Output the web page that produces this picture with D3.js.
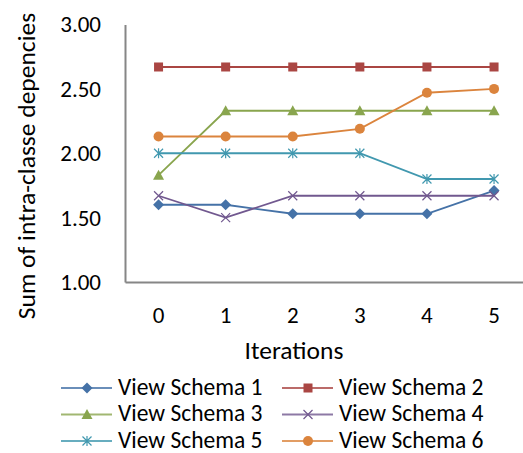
<!DOCTYPE html>
<html>
<head>
<meta charset="utf-8">
<script src="https://cdn.jsdelivr.net/npm/d3@7"></script>
<style>
  html, body { margin: 0; padding: 0; background: #fff; }
  text { font-family: Carlito, "Liberation Sans", Arial, sans-serif; fill: #000; }
</style>
</head>
<body>
<svg id="chart" width="523" height="453"></svg>
<script>
// Iteration steps on the x axis
const iterations = [0, 1, 2, 3, 4, 5];
// Sum of intra-class dependencies for each view schema
const schema1 = [1.60, 1.60, 1.53, 1.53, 1.53, 1.71];
const schema2 = [2.67, 2.67, 2.67, 2.67, 2.67, 2.67];
const schema3 = [1.83, 2.33, 2.33, 2.33, 2.33, 2.33];
const schema4 = [1.67, 1.50, 1.67, 1.67, 1.67, 1.67];
const schema5 = [2.00, 2.00, 2.00, 2.00, 1.80, 1.80];
const schema6 = [2.13, 2.13, 2.13, 2.19, 2.47, 2.50];
const seriesNames = ["View Schema 1", "View Schema 2", "View Schema 3", "View Schema 4", "View Schema 5", "View Schema 6"];
const yTicks = [1.0, 1.5, 2.0, 2.5, 3.0];

const seriesValues = [schema1, schema2, schema3, schema4, schema5, schema6];
const colors = ["#4572A7", "#AA4643", "#89A54E", "#71588F", "#4198AF", "#DB843D"];
const symbols = ["diamond", "square", "triangle", "x", "star", "circle"];

const svg = d3.select("#chart");
const plotLeft = 125, plotTop = 24.5, plotBottom = 282, plotRight = 527.6;

const x = d3.scaleBand().domain(iterations).range([plotLeft, plotRight]);
const y = d3.scaleLinear().domain([1, 3]).range([plotBottom, plotTop]);
const cx = d => x(d) + x.bandwidth() / 2;

// Axes
const yAxis = svg.append("g").attr("transform", `translate(${plotLeft},0)`)
  .call(d3.axisLeft(y).tickValues(yTicks).tickFormat(d3.format(".2f")).tickSize(0).tickPadding(24));
yAxis.select(".domain").attr("stroke", "#868686").attr("stroke-width", 2);
yAxis.selectAll("text").style("font-size", "23px");

const xAxis = svg.append("g").attr("transform", `translate(0,${plotBottom})`)
  .call(d3.axisBottom(x).tickSize(0).tickPadding(25));
xAxis.select(".domain").attr("stroke", "#868686").attr("stroke-width", 2);
xAxis.selectAll("text").style("font-size", "23px");

// Axis titles
svg.append("text").attr("transform", "translate(35,166) rotate(-90)")
  .attr("text-anchor", "middle").style("font-size", "25.5px")
  .text("Sum of intra-classe depencies");
svg.append("text").attr("x", 294).attr("y", 358.5)
  .attr("text-anchor", "middle").style("font-size", "25.5px").text("Iterations");

// Marker drawing
function drawMarker(g, kind, color, px, py) {
  if (kind === "diamond") {
    g.append("path").attr("d", `M${px},${py-5.5}L${px+5.5},${py}L${px},${py+5.5}L${px-5.5},${py}Z`).attr("fill", color);
  } else if (kind === "square") {
    g.append("rect").attr("x", px - 4.5).attr("y", py - 4.5).attr("width", 9).attr("height", 9).attr("fill", color);
  } else if (kind === "triangle") {
    g.append("path").attr("d", `M${px},${py-5.5}L${px+5.5},${py+4.5}L${px-5.5},${py+4.5}Z`).attr("fill", color);
  } else if (kind === "x") {
    g.append("path").attr("d", `M${px-4.5},${py-4.5}L${px+4.5},${py+4.5}M${px-4.5},${py+4.5}L${px+4.5},${py-4.5}`)
      .attr("stroke", color).attr("stroke-width", 1.2).attr("fill", "none");
  } else if (kind === "star") {
    g.append("path").attr("d", `M${px-4.5},${py-4.5}L${px+4.5},${py+4.5}M${px-4.5},${py+4.5}L${px+4.5},${py-4.5}M${px},${py-5}L${px},${py+5}`)
      .attr("stroke", color).attr("stroke-width", 1.2).attr("fill", "none");
  } else {
    g.append("circle").attr("cx", px).attr("cy", py).attr("r", 5).attr("fill", color);
  }
}

const line = d3.line().x((d, i) => cx(iterations[i])).y(d => y(d));

seriesValues.forEach((vals, s) => {
  const g = svg.append("g");
  g.append("path").datum(vals).attr("d", line)
    .attr("fill", "none").attr("stroke", colors[s]).attr("stroke-width", 1.8);
  vals.forEach((v, i) => drawMarker(g, symbols[s], colors[s], cx(iterations[i]), y(v)));
});

// Legend: two columns, three rows
const legendX = [61, 282], legendY = [388, 414.5, 441];
seriesNames.forEach((name, s) => {
  const lx = legendX[s % 2], ly = legendY[Math.floor(s / 2)];
  const g = svg.append("g");
  g.append("line").attr("x1", lx).attr("x2", lx + 51).attr("y1", ly).attr("y2", ly)
    .attr("stroke", colors[s]).attr("stroke-width", 1.8).attr("stroke-opacity", 0.8);
  drawMarker(g, symbols[s], colors[s], lx + 26, ly);
  g.append("text").attr("x", lx + 57).attr("y", ly - 1).attr("dy", "0.32em")
    .style("font-size", "23.5px").text(name);
});
</script>
</body>
</html>
